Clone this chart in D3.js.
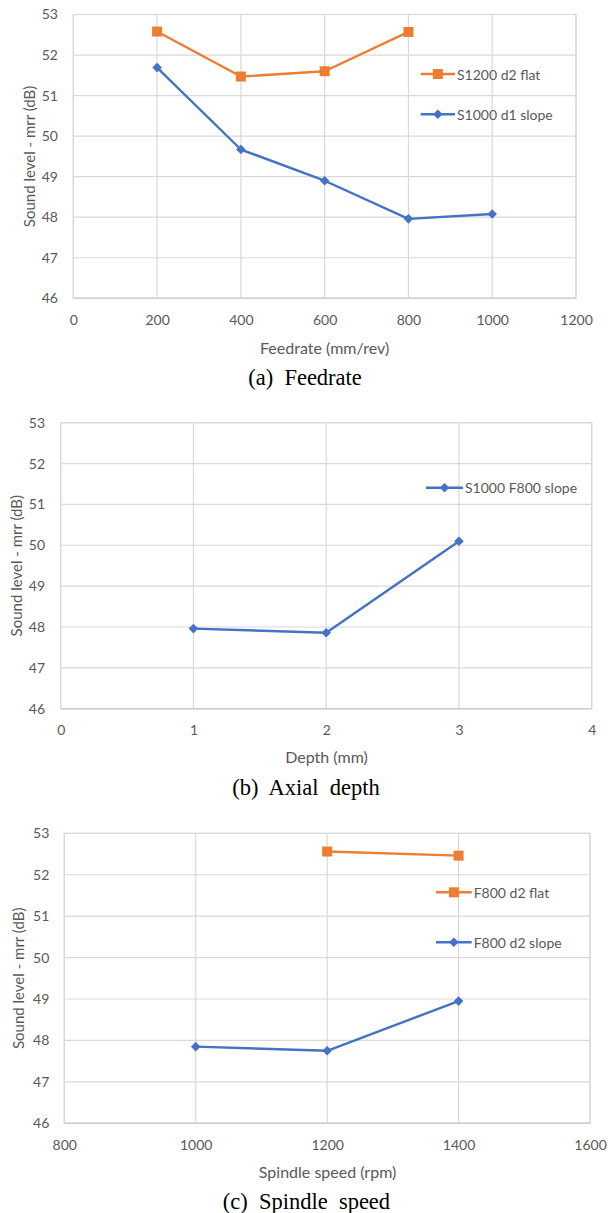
<!DOCTYPE html>
<html><head><meta charset="utf-8">
<script src="https://cdn.jsdelivr.net/npm/d3@7"></script>
<style>
html,body{margin:0;padding:0;background:#fff;}
svg{display:block;}
</style></head>
<body>
<svg id="c" width="608" height="1213"></svg>
<script>
// ---------- DATA ----------
const yTicks = [46, 47, 48, 49, 50, 51, 52, 53];

const feedTicks = [0, 200, 400, 600, 800, 1000, 1200];
const feedFlatX = [200, 400, 600, 800];
const feedFlatY = [52.58, 51.47, 51.60, 52.57];
const feedSlopeX = [200, 400, 600, 800, 1000];
const feedSlopeY = [51.69, 49.67, 48.90, 47.96, 48.08];

const depthTicks = [0, 1, 2, 3, 4];
const depthSlopeX = [1, 2, 3];
const depthSlopeY = [47.96, 47.86, 50.10];

const speedTicks = [800, 1000, 1200, 1400, 1600];
const speedFlatX = [1200, 1400];
const speedFlatY = [52.56, 52.46];
const speedSlopeX = [1000, 1200, 1400];
const speedSlopeY = [47.85, 47.75, 48.95];

const seriesNames = {
  a: ["S1200 d2 flat", "S1000 d1 slope"],
  b: ["S1000 F800 slope"],
  c: ["F800 d2 flat", "F800 d2 slope"]
};
const captions = ["(a)  Feedrate", "(b)  Axial  depth", "(c)  Spindle  speed"];
const xTitles = ["Feedrate (mm/rev)", "Depth (mm)", "Spindle speed (rpm)"];
const yTitle = "Sound level - mrr (dB)";

// ---------- STYLE ----------
const ORANGE = "#ED7D31", BLUE = "#4472C4", GRID = "#d9d9d9", TXT = "#595959";
const FONT = "Lato, 'Open Sans', sans-serif";
const svg = d3.select("#c");

function diamond(s){ return `M0,${-s}L${s},0L0,${s}L${-s},0Z`; }

function panel(cfg){
  const g = svg.append("g");
  const x = d3.scaleLinear().domain(cfg.xDomain).range([cfg.left, cfg.right]);
  const y = d3.scaleLinear().domain([46, 53]).range([cfg.bottom, cfg.top]);

  g.append("g").selectAll("line.h").data(yTicks).join("line")
    .attr("x1", cfg.left).attr("x2", cfg.right)
    .attr("y1", d => y(d)).attr("y2", d => y(d))
    .attr("stroke", GRID).attr("stroke-width", 1.2);
  g.append("g").selectAll("line.v").data(cfg.xTicks).join("line")
    .attr("y1", cfg.top).attr("y2", cfg.bottom)
    .attr("x1", d => x(d)).attr("x2", d => x(d))
    .attr("stroke", GRID).attr("stroke-width", 1.2);
  g.append("rect").attr("x", cfg.left).attr("y", cfg.top)
    .attr("width", cfg.right - cfg.left).attr("height", cfg.bottom - cfg.top)
    .attr("fill", "none").attr("stroke", GRID).attr("stroke-width", 1.2);
  g.append("line").attr("x1", cfg.left).attr("x2", cfg.right)
    .attr("y1", cfg.bottom).attr("y2", cfg.bottom)
    .attr("stroke", "#cfcfcf").attr("stroke-width", 1.4);

  const fmt = d3.format("d");
  const yAxis = d3.axisLeft(y).tickValues(yTicks).tickFormat(fmt).tickSize(0).tickPadding(cfg.left - cfg.yLabelRight);
  const ya = g.append("g").attr("transform", `translate(${cfg.left},0)`).call(yAxis);
  ya.select(".domain").remove();
  ya.selectAll("text").attr("font-family", FONT).attr("font-size", 14).attr("fill", TXT);

  const xAxis = d3.axisBottom(x).tickValues(cfg.xTicks).tickFormat(fmt).tickSize(0).tickPadding(0);
  const xa = g.append("g").attr("transform", `translate(0,${cfg.bottom})`).call(xAxis);
  xa.select(".domain").remove();
  xa.selectAll("text").attr("font-family", FONT).attr("font-size", 14).attr("fill", TXT)
    .attr("dy", null).attr("y", 21).attr("dominant-baseline", "central");

  g.append("text").attr("x", cfg.xTitleX).attr("y", cfg.xTitleY)
    .attr("text-anchor", "middle").attr("dominant-baseline", "central")
    .attr("font-family", FONT).attr("font-size", 16).attr("fill", TXT).text(cfg.xTitle);
  g.append("text").attr("transform", `translate(${cfg.yTitleX},${(cfg.top + cfg.bottom) / 2}) rotate(-90)`)
    .attr("text-anchor", "middle").attr("dominant-baseline", "central")
    .attr("font-family", FONT).attr("font-size", 15).attr("fill", TXT).text(yTitle);
  g.append("text").attr("x", cfg.capX).attr("y", cfg.capY)
    .attr("text-anchor", "middle").attr("dominant-baseline", "central")
    .attr("font-family", "'Liberation Serif', 'Times New Roman', serif").attr("font-size", 22.5)
    .attr("fill", "#000").style("white-space", "pre").text(cfg.caption);

  const line = d3.line().x(d => x(d[0])).y(d => y(d[1]));

  cfg.series.forEach(s => {
    const pts = s.xs.map((v, i) => [v, s.ys[i]]);
    g.append("path").datum(pts).attr("d", line).attr("fill", "none")
      .attr("stroke", s.color).attr("stroke-width", 2.4).attr("stroke-linejoin", "round");
    const m = g.append("g").selectAll("path.m").data(pts).join("path")
      .attr("transform", d => `translate(${x(d[0])},${y(d[1])})`)
      .attr("fill", s.color);
    if (s.marker === "square") m.attr("d", "M-5,-5H5V5H-5Z");
    else m.attr("d", diamond(4.8));

    const L = s.legend;
    g.append("line").attr("x1", L.x1).attr("x2", L.x2).attr("y1", L.y).attr("y2", L.y)
      .attr("stroke", s.color).attr("stroke-width", 2.4);
    g.append("path").attr("transform", `translate(${(L.x1 + L.x2) / 2},${L.y})`)
      .attr("d", s.marker === "square" ? "M-5,-5H5V5H-5Z" : diamond(4.8)).attr("fill", s.color);
    g.append("text").attr("x", L.x2 + 2).attr("y", L.y).attr("dominant-baseline", "central")
      .attr("font-family", FONT).attr("font-size", 14).attr("fill", TXT).text(s.name);
  });
}

panel({
  xDomain: [0, 1200], xTicks: feedTicks,
  left: 73.3, right: 576, top: 14.5, bottom: 298.3, yLabelRight: 58,
  xTitle: xTitles[0], xTitleX: 324.6, xTitleY: 347, yTitleX: 29,
  caption: captions[0], capX: 305, capY: 377,
  series: [
    { name: seriesNames.a[0], xs: feedFlatX, ys: feedFlatY, color: ORANGE, marker: "square",
      legend: { x1: 420.7, x2: 455, y: 74 } },
    { name: seriesNames.a[1], xs: feedSlopeX, ys: feedSlopeY, color: BLUE, marker: "diamond",
      legend: { x1: 420.7, x2: 455, y: 114.3 } }
  ]
});

panel({
  xDomain: [0, 4], xTicks: depthTicks,
  left: 60.7, right: 591.7, top: 422.7, bottom: 708.7, yLabelRight: 45,
  xTitle: xTitles[1], xTitleX: 326.5, xTitleY: 756, yTitleX: 16,
  caption: captions[1], capX: 306, capY: 787,
  series: [
    { name: seriesNames.b[0], xs: depthSlopeX, ys: depthSlopeY, color: BLUE, marker: "diamond",
      legend: { x1: 426, x2: 463, y: 487.7 } }
  ]
});

panel({
  xDomain: [800, 1600], xTicks: speedTicks,
  left: 64.3, right: 590, top: 833.3, bottom: 1123.3, yLabelRight: 49.3,
  xTitle: xTitles[2], xTitleX: 327.6, xTitleY: 1171.7, yTitleX: 18,
  caption: captions[2], capX: 306.4, capY: 1201.7,
  series: [
    { name: seriesNames.c[0], xs: speedFlatX, ys: speedFlatY, color: ORANGE, marker: "square",
      legend: { x1: 436, x2: 471.7, y: 892.3 } },
    { name: seriesNames.c[1], xs: speedSlopeX, ys: speedSlopeY, color: BLUE, marker: "diamond",
      legend: { x1: 436, x2: 471.7, y: 942.3 } }
  ]
});
</script>
</body></html>
